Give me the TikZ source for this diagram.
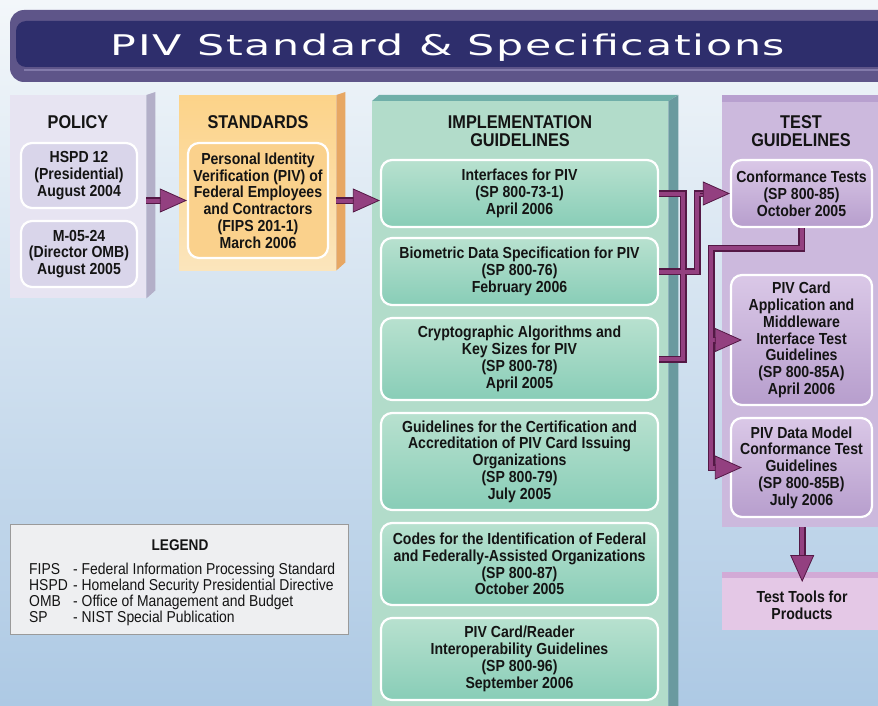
\documentclass[tikz,border=0pt]{standalone}
\usepackage{fontspec}
\setmainfont{Liberation Sans}[FakeStretch=0.88]
\newfontfamily\titlefont{DejaVu Sans}[FakeStretch=1.5,LetterSpace=6]
\usetikzlibrary{arrows.meta}

\definecolor{bgtop}{HTML}{F3F7FA}
\definecolor{bgbot}{HTML}{ADC9E4}
\definecolor{barout}{HTML}{5E5589}
\definecolor{barin}{HTML}{2E2E6C}
\definecolor{barline}{HTML}{827AAA}
\definecolor{polface}{HTML}{E7E4F2}
\definecolor{polcardc}{HTML}{D9D5EA}
\definecolor{polside}{HTML}{B3AFC8}
\definecolor{stdtop}{HTML}{FCD389}
\definecolor{stdbot}{HTML}{FBE5BC}
\definecolor{stdside}{HTML}{E7A763}
\definecolor{stdcardc}{HTML}{FAD18C}
\definecolor{implface}{HTML}{B2DCCA}
\definecolor{implside}{HTML}{6A9A9F}
\definecolor{impltopc}{HTML}{70AFA9}
\definecolor{mintA}{HTML}{B8E1CF}
\definecolor{mintB}{HTML}{88CDB7}
\definecolor{testface}{HTML}{CCB9DD}
\definecolor{teststrip}{HTML}{B8A0CF}
\definecolor{lilacA}{HTML}{DAC8E7}
\definecolor{lilacB}{HTML}{B79ECD}
\definecolor{toolface}{HTML}{E4C8E6}
\definecolor{toolstrip}{HTML}{D2AAD6}
\definecolor{linkdark}{HTML}{541845}
\definecolor{linkmid}{HTML}{934080}
\definecolor{legfill}{HTML}{EEEFF1}
\definecolor{legdraw}{HTML}{9A9A9A}
\definecolor{ink}{HTML}{141414}

\begin{document}
\begin{tikzpicture}[x=1pt, y=-1pt,
    colhead/.style={font=\bfseries\fontsize{18.5}{18.5}\selectfont, align=center, inner sep=0pt, text=ink},
    card/.style={draw=white, line width=2.2pt, rounded corners=11pt, align=center, inner sep=0pt,
        text=ink, font=\bfseries\fontsize{16}{16.8}\selectfont},
    polcard/.style={card, fill=polcardc},
    stdcard/.style={card, fill=stdcardc},
    implcard/.style={card, top color=mintA, bottom color=mintB},
    testcard/.style={card, top color=lilacA, bottom color=lilacB},
    colface/.style={anchor=north west, inner sep=0pt},
    conn/.style={draw=linkdark, double=linkmid, line width=1.5pt, double distance=4pt},
    arrowhd/.style={draw=linkdark, line width=0.8pt, -{Triangle[length=27pt, width=24pt, fill=linkmid]}}]

    % Sfondo
    \useasboundingbox (0,0) rectangle (878,706);
    \clip (0,0) rectangle (878,706);
    \shade[top color=bgtop, bottom color=bgbot] (0,0) rectangle (878,706);

    % Titolo
    \fill[barout, rounded corners=14pt] (10,10) rectangle (900,82);
    \fill[barin, rounded corners=10pt] (16,21) rectangle (900,67);
    \draw[barline, line width=2pt] (24,70) -- (900,70);
    \node[text=white, font=\titlefont\fontsize{28.5}{28.5}\selectfont] (title) at (448,48) {PIV Standard \& Specifications};

    % Policy
    \node[colface, fill=polface, minimum width=136pt, minimum height=203pt] (policy) at (10,95) {};
    \fill[polside] (policy.north east) -- ++(9,-3) -- ([shift={(9pt,8pt)}]policy.south east) -- (policy.south east) -- cycle;
    \node[colhead] (polhead) at (78,122) {POLICY};
    \node[polcard, minimum width=116pt, minimum height=65pt] (hspd) at (79,175.5) {HSPD 12\\(Presidential)\\August 2004};
    \node[polcard, minimum width=116pt, minimum height=66pt] (omb) at (79,254) {M-05-24\\(Director OMB)\\August 2005};

    % Standards
    \node[colface, top color=stdtop, bottom color=stdbot, minimum width=157pt, minimum height=175pt] (stdcol) at (179,95) {};
    \fill[stdside] (stdcol.north east) -- ++(9,-3) -- ([shift={(9pt,8pt)}]stdcol.south east) -- (stdcol.south east) -- cycle;
    \node[colhead] (stdhead) at (258,122) {STANDARDS};
    \node[stdcard, minimum width=140pt, minimum height=115pt] (fips) at (258,200.5)
        {Personal Identity\\Verification (PIV) of\\Federal Employees\\and Contractors\\(FIPS 201-1)\\March 2006};

    % Implementation
    \node[colface, fill=implface, minimum width=296pt, minimum height=612pt] (implcol) at (372,101) {};
    \fill[impltopc] (implcol.north west) -- ++(7,-6) -- ++(299,0) -- (implcol.north east) -- cycle;
    \fill[implside] (implcol.north east) -- ++(10,-6) -- ([xshift=10pt]implcol.south east) -- (implcol.south east) -- cycle;
    \node[colhead] (implhead) at (520,131) {IMPLEMENTATION\\GUIDELINES};
    \node[implcard, minimum width=277pt, minimum height=67pt] (i73) at (519.5,193.5) {Interfaces for PIV\\(SP 800-73-1)\\April 2006};
    \node[implcard, minimum width=277pt, minimum height=67pt] (i76) at (519.5,271.5) {Biometric Data Specification for PIV\\(SP 800-76)\\February 2006};
    \node[implcard, minimum width=277pt, minimum height=82pt] (i78) at (519.5,359) {Cryptographic Algorithms and\\Key Sizes for PIV\\(SP 800-78)\\April 2005};
    \node[implcard, minimum width=277pt, minimum height=97pt] (i79) at (519.5,461.5)
        {Guidelines for the Certification and\\Accreditation of PIV Card Issuing\\Organizations\\(SP 800-79)\\July 2005};
    \node[implcard, minimum width=277pt, minimum height=82pt] (i87) at (519.5,564)
        {Codes for the Identification of Federal\\and Federally-Assisted Organizations\\(SP 800-87)\\October 2005};
    \node[implcard, minimum width=277pt, minimum height=82pt] (i96) at (519.5,659)
        {PIV Card/Reader\\Interoperability Guidelines\\(SP 800-96)\\September 2006};

    % Test
    \node[colface, fill=testface, minimum width=160pt, minimum height=432pt] (testcol) at (722,95) {};
    \fill[teststrip] (testcol.north west) rectangle ++(160,7);
    \node[colhead] (testhead) at (801,131) {TEST\\GUIDELINES};
    \node[testcard, minimum width=141pt, minimum height=67pt] (t85) at (801.5,193.5) {Conformance Tests\\(SP 800-85)\\October 2005};
    \node[testcard, minimum width=141pt, minimum height=130pt] (t85a) at (801.5,340)
        {PIV Card\\Application and\\Middleware\\Interface Test\\Guidelines\\(SP 800-85A)\\April 2006};
    \node[testcard, minimum width=141pt, minimum height=99pt] (t85b) at (801.5,467.5)
        {PIV Data Model\\Conformance Test\\Guidelines\\(SP 800-85B)\\July 2006};

    % Tools
    \node[colface, fill=toolface, minimum width=160pt, minimum height=58pt] (tools) at (722,572) {};
    \fill[toolstrip] (tools.north west) rectangle ++(160,6);
    \node[align=center, inner sep=0pt, text=ink, font=\bfseries\fontsize{16}{16.8}\selectfont] (toolstext) at (802,605.5) {Test Tools for\\Products};

    % Legenda
    \node[colface, fill=legfill, draw=legdraw, line width=1pt, minimum width=338pt, minimum height=110pt] (legend) at (10,524) {};
    \node[font=\bfseries\fontsize{15.5}{16}\selectfont, text=ink] (leghead) at (180,545) {LEGEND};
    \node[anchor=north west, inner sep=0pt, text=ink, font=\fontsize{15.8}{15.4}\selectfont] (legtext) at (29,563)
        {\begin{tabular}{@{}p{44pt}@{}l@{}}
            FIPS & - Federal Information Processing Standard\\
            HSPD & - Homeland Security Presidential Directive\\
            OMB & - Office of Management and Budget\\
            SP & - NIST Special Publication
        \end{tabular}};

    % Frecce
    \coordinate (busa) at (683,0);
    \coordinate (busb) at (697,0);
    \coordinate (busc) at (711,0);
    \coordinate (elbow) at (803,248);
    \coordinate (imin) at (i73.west |- fips.east);

    \draw[conn, shorten >=20pt] (policy.east |- fips.west) -- (fips.west);
    \draw[arrowhd] ([xshift=-27pt]fips.west) -- (fips.west);

    \draw[conn, shorten >=20pt] (stdcol.east |- fips.east) -- (imin);
    \draw[arrowhd] ([xshift=-27pt]imin) -- (imin);

    \draw[conn] (i73.east) -- (i73.east -| busa) -- (i78.east -| busa) -- (i78.east)
        (i76.east) -- (i76.east -| busb) -- (busb |- t85.west) -- ([xshift=-20pt]t85.west);
    \draw[arrowhd] ([xshift=-30pt]t85.west) -- (t85.west);

    \draw[conn] (t85.south) -- (t85.south |- elbow) -- (busc |- elbow) -- (busc |- t85b.west) -- ([xshift=-10pt]t85b.west)
        (busc |- t85a.west) -- ([xshift=-10pt]t85a.west);
    \draw[arrowhd] ([xshift=-15pt]t85a.west) -- ([xshift=12pt]t85a.west);
    \draw[arrowhd] ([xshift=-15pt]t85b.west) -- ([xshift=12pt]t85b.west);

    \draw[conn] (testcol.south) -- ([yshift=12pt]tools.north);
    \draw[arrowhd] ([yshift=17pt]tools.north) -- ([yshift=-10pt]tools.north);

\end{tikzpicture}
\end{document}
